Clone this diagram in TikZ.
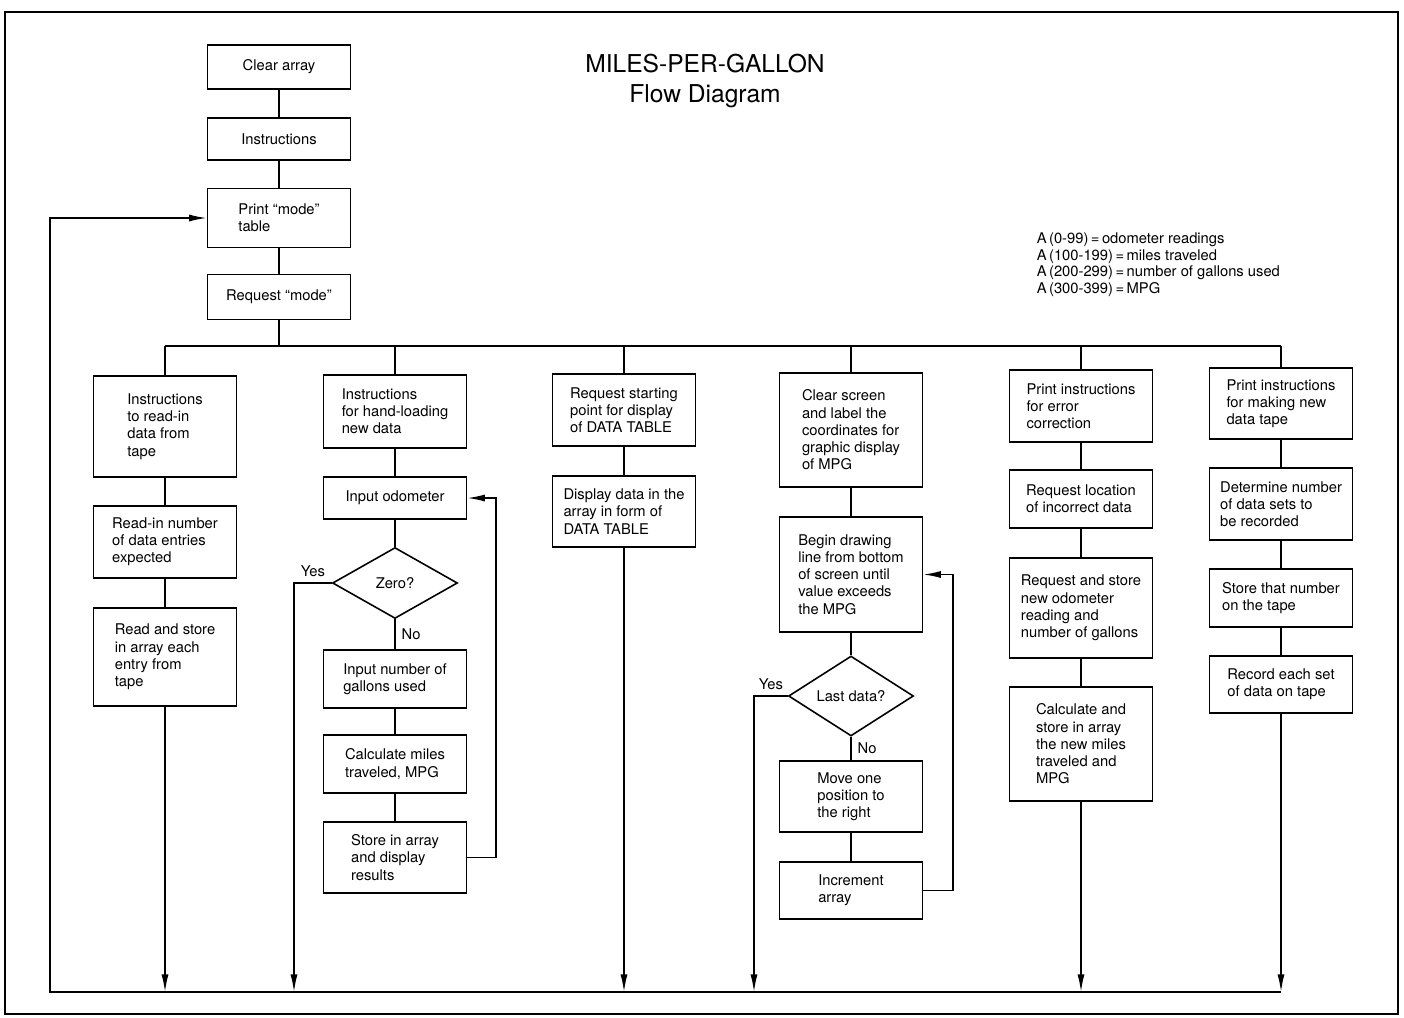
\documentclass[tikz,border=0pt]{standalone}
\usepackage{fontspec}
\setmainfont{TeX Gyre Heros}
\usetikzlibrary{shapes.geometric,arrows.meta}

\begin{document}
\begin{tikzpicture}[x=0.02cm, y=-0.02cm, line width=0.9pt,
        font=\fontsize{8.4}{9.8}\selectfont,
        box/.style={draw, minimum width=2.86cm, align=left, inner sep=2pt},
        test/.style={draw, diamond, minimum width=2.5cm, minimum height=1.42cm, inner sep=0pt},
        flow/.style={-{Latex[length=10pt, width=4pt]}}]
        \useasboundingbox (0,0) rectangle (1404,1018);
        \draw (5,12) rectangle (1398,1014);

        \node at (705,81) (title) [align=center, font=\fontsize{14}{17}\selectfont] {MILES-PER-GALLON\\Flow Diagram};
        \node at (1036,232) (legend) [anchor=north west, align=left, inner sep=0pt, font=\fontsize{8.4}{9.5}\selectfont]
                {A\,(0-99)\,=\,odometer readings\\A\,(100-199)\,=\,miles traveled\\A\,(200-299)\,=\,number of gallons used\\A\,(300-399)\,=\,MPG};

        \node at (279,67) (clear) [box, minimum height=0.88cm] {Clear array};
        \node at (279,139) (instr) [box, minimum height=0.84cm] {Instructions};
        \node at (279,218) (mode) [box, minimum height=1.18cm] {Print ``mode''\\table};
        \node at (279,297) (req) [box, minimum height=0.9cm] {Request ``mode''};

        \node at (165,426.5) (tape1) [box, minimum height=2.02cm] {Instructions\\to read-in\\data from\\tape};
        \node at (165,542) (tape2) [box, minimum height=1.44cm] {Read-in number\\of data entries\\expected};
        \node at (165,657) (tape3) [box, minimum height=1.96cm] {Read and store\\in array each\\entry from\\tape};

        \node at (395,411.5) (hand) [box, minimum height=1.46cm] {Instructions\\for hand-loading\\new data};
        \node at (395,498) (odo) [box, minimum height=0.84cm] {Input odometer};
        \node at (395,583) (zero) [test] {Zero?};
        \node at (395,679) (gal) [box, minimum height=1.16cm] {Input number of\\gallons used};
        \node at (395,764) (calc) [box, minimum height=1.16cm] {Calculate miles\\traveled, MPG};
        \node at (395,857.5) (store) [box, minimum height=1.42cm] {Store in array\\and display\\results};

        \node at (624,410) (start) [box, minimum height=1.44cm] {Request starting\\point for display\\of DATA TABLE};
        \node at (624,511.5) (table) [box, minimum height=1.42cm] {Display data in the\\array in form of\\DATA TABLE};

        \node at (851,430) (screen) [box, minimum height=2.28cm] {Clear screen\\and label the\\coordinates for\\graphic display\\of MPG};
        \node at (851,574.5) (begin) [box, minimum height=2.3cm] {Begin drawing\\line from bottom\\of screen until\\value exceeds\\the MPG};
        \node at (851,696) (last) [test] {Last data?};
        \node at (851,796.5) (move) [box, minimum height=1.42cm] {Move one\\position to\\the right};
        \node at (851,890.5) (incr) [box, minimum height=1.14cm] {Increment\\array};

        \node at (1081,406) (error) [box, minimum height=1.44cm] {Print instructions\\for error\\correction};
        \node at (1081,499) (loc) [box, minimum height=1.16cm] {Request location\\of incorrect data};
        \node at (1081,608) (newodo) [box, minimum height=2.0cm] {Request and store\\new odometer\\reading and\\number of gallons};
        \node at (1081,744) (newmpg) [box, minimum height=2.28cm] {Calculate and\\store in array\\the new miles\\traveled and\\MPG};

        \node at (1281,403.5) (newtape) [box, minimum height=1.42cm] {Print instructions\\for making new\\data tape};
        \node at (1281,504) (sets) [box, minimum height=1.44cm] {Determine number\\of data sets to\\be recorded};
        \node at (1281,598) (number) [box, minimum height=1.16cm] {Store that number\\on the tape};
        \node at (1281,684.5) (record) [box, minimum height=1.14cm] {Record each set\\of data on tape};

        \coordinate (busL) at (165,346);
        \coordinate (busR) at (1281,346);
        \coordinate (botL) at (50,992);
        \coordinate (botR) at (1281,992);
        \coordinate (loop2) at (496,857.5);
        \coordinate (loop4) at (953,890.5);
        \coordinate (endz) at (294,992);
        \coordinate (endl) at (754,992);

        \draw (clear) -- (instr);
        \draw (instr) -- (mode);
        \draw (mode) -- (req);
        \draw (req) -- (req |- busL);
        \draw (busL) -- (busR);

        \draw (busL) -- (tape1);
        \draw (tape1) -- (tape2);
        \draw (tape2) -- (tape3);
        \draw[flow] (tape3) -- (tape3 |- botL);

        \draw (hand |- busL) -- (hand);
        \draw (hand) -- (odo);
        \draw (odo) -- (zero);
        \draw (zero) -- (gal) node [midway, right] {No};
        \draw (gal) -- (calc);
        \draw (calc) -- (store);
        \draw[flow] (store.east) -- (loop2) |- (odo.east);
        \draw[flow] (zero.west) -| (endz) node [pos=0.25, above] {Yes};

        \draw (start |- busL) -- (start);
        \draw (start) -- (table);
        \draw[flow] (table) -- (table |- botL);

        \draw (screen |- busL) -- (screen);
        \draw (screen) -- (begin);
        \draw (begin) -- (last);
        \draw (last) -- (move) node [midway, right] {No};
        \draw (move) -- (incr);
        \draw[flow] (incr.east) -- (loop4) |- (begin.east);
        \draw[flow] (last.west) -| (endl) node [pos=0.25, above] {Yes};

        \draw (error |- busL) -- (error);
        \draw (error) -- (loc);
        \draw (loc) -- (newodo);
        \draw (newodo) -- (newmpg);
        \draw[flow] (newmpg) -- (newmpg |- botL);

        \draw (busR) -- (newtape);
        \draw (newtape) -- (sets);
        \draw (sets) -- (number);
        \draw (number) -- (record);
        \draw[flow] (record) -- (botR);

        \draw[flow] (botR) -- (botL) |- (mode);

    \end{tikzpicture}
\end{document}
